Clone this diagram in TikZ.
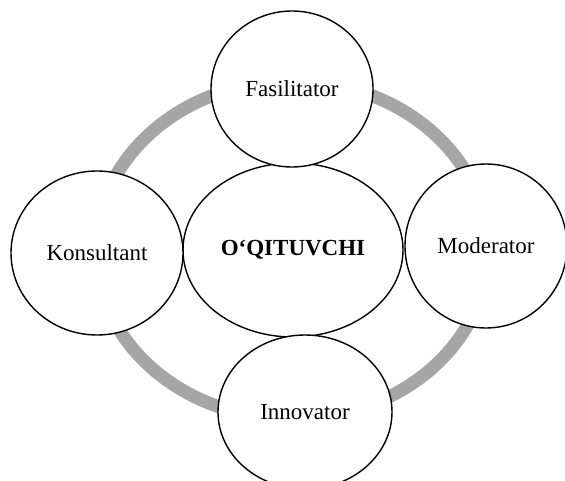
\documentclass[tikz,border=0pt]{standalone}
\usepackage{fontspec}
\setmainfont{Liberation Serif}
\usepackage{xcolor}
\usetikzlibrary{shapes.geometric}

\definecolor{ringgray}{HTML}{A6A6A6}

\begin{document}
\begin{tikzpicture}[x=1pt, y=-1pt,
	role/.style={ellipse, draw=black, fill=white, line width=1.4pt, inner sep=0pt,
	  font=\fontsize{23}{27}\selectfont},
	hub/.style={role, font=\fontsize{23}{27}\selectfont\bfseries},
	ring/.style={draw=ringgray, line width=13pt}]
	\useasboundingbox (0,0) rectangle (565,481);
	% gray ring behind the roles
	\coordinate (mid) at (292,250);
	\draw[ring] (mid) ellipse [x radius=196, y radius=169];
	\node[hub, minimum width=220pt, minimum height=174pt] (teacher) at (293,250) {O‘QITUVCHI};
	\node[role, minimum width=162pt, minimum height=156pt] (fasil) at (292,89) {Fasilitator};
	\node[role, minimum width=172pt, minimum height=164pt] (konsul) at (97,253) {Konsultant};
	\node[role, minimum width=162pt, minimum height=164pt] (moder) at (486,246) {Moderator};
	\node[role, minimum width=174pt, minimum height=154pt] (innov) at (305,412) {Innovator};
\end{tikzpicture}
\end{document}
